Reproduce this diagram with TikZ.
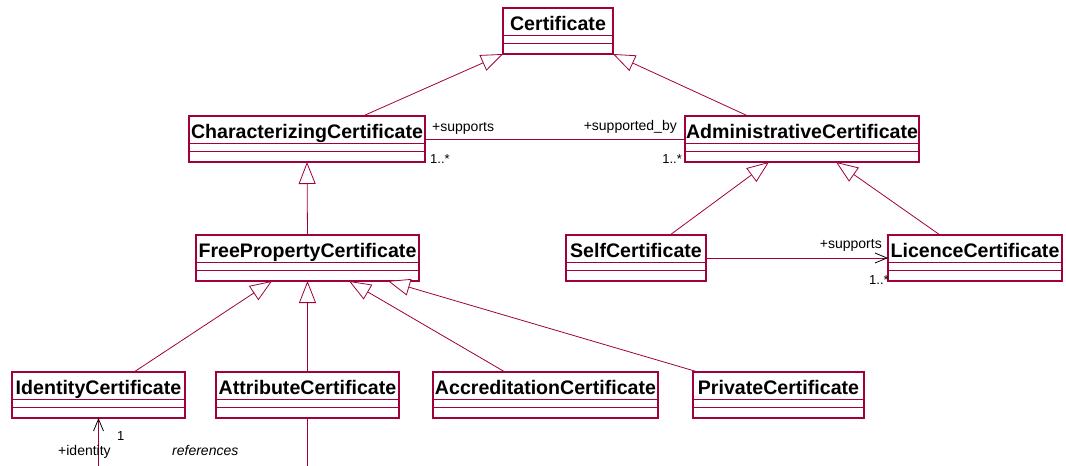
\documentclass[tikz,border=0pt]{standalone}
\usepackage{fontspec}
\setmainfont{Liberation Sans}
\usetikzlibrary{arrows.meta}

\definecolor{umlred}{RGB}{160,0,60}

\tikzset{
  x=1pt, y=-1pt,
  classbox/.style={draw=umlred, line width=1.1pt, inner sep=0pt, outer sep=0pt,
                   minimum height=46pt, anchor=north west},
  compart/.style={draw=umlred, line width=0.8pt},
  classname/.style={font=\fontsize{19.6}{19.6}\selectfont\bfseries, inner sep=0pt, anchor=base},
  role/.style={font=\fontsize{14}{14}\selectfont, inner sep=0pt},
  mult/.style={font=\fontsize{13}{13}\selectfont, inner sep=0pt},
  gen/.style={draw=umlred, line width=0.8pt,
              -{Triangle[open, length=22pt, width=17pt, fill=white, line width=0.8pt]}},
  assoc/.style={draw=umlred, line width=0.8pt},
  nav/.style={assoc, -{Straight Barb[length=12pt, width=10pt, color=black, line width=0.8pt]}}
}

% UML class: id, left, top, right, name
\newcommand\umlclass[5]{%
  \node[classbox, minimum width={(#4-#2)*1pt}] (#1) at (#2,#3) {};
  \node[classname] (#1-name) at ([yshift=-22.5pt]#1.north) {#5};
  \draw[compart] ([yshift=-27pt]#1.north west) -- ([yshift=-27pt]#1.north east);
  \draw[compart] ([yshift=-35pt]#1.north west) -- ([yshift=-35pt]#1.north east);
}

\begin{document}
\begin{tikzpicture}
\useasboundingbox (0,0) rectangle (1066,466);

% classes
\umlclass{cert}{503}{8}{613}{Certificate}
\umlclass{char}{189}{116}{425}{CharacterizingCertificate}
\umlclass{admin}{685}{116}{919}{AdministrativeCertificate}
\umlclass{free}{196}{235}{419}{FreePropertyCertificate}
\umlclass{self}{566}{235}{706}{SelfCertificate}
\umlclass{lic}{888}{235}{1062}{LicenceCertificate}
\umlclass{ident}{12}{372}{185}{IdentityCertificate}
\umlclass{attr}{216}{372}{399}{AttributeCertificate}
\umlclass{accr}{433}{372}{658}{AccreditationCertificate}
\umlclass{priv}{693}{372}{864}{PrivateCertificate}

% generalizations
\draw[gen] ([xshift=56pt]char.north) -- (cert.south west);
\draw[gen] ([xshift=-54pt]admin.north) -- (cert.south east);
\draw[gen] (free.north) -- (char.south);
\draw[gen] ([xshift=34pt]self.north) -- ([xshift=-33pt]admin.south);
\draw[gen] ([xshift=-35pt]lic.north) -- ([xshift=34pt]admin.south);
\draw[gen] ([xshift=35.5pt]ident.north) -- ([xshift=-35.5pt]free.south);
\draw[gen] (attr.north) -- (free.south);
\draw[gen] ([xshift=-40.5pt]accr.north) -- ([xshift=41.5pt]free.south);
\draw[gen] ([xshift=-80.5pt]priv.north) -- ([xshift=80.5pt]free.south);

% associations
\draw[assoc] (char.east) -- (admin.west);
\node[role, anchor=base west] (r-sup) at (432,131) {+supports};
\node[role, anchor=base east] (r-supby) at (677,130) {+supported\_by};
\node[mult, anchor=base west] (m-char) at (430,163) {1..*};
\node[mult, anchor=base east] (m-admin) at (682,163) {1..*};

\draw[nav] (self.east) -- (lic.west);
\node[role, anchor=base east] (r-sup2) at (882,248) {+supports};
\node[mult, anchor=base west] (m-lic) at (869,284) {1..*};

\coordinate (idtail) at (98.5,466);
\draw[nav] (idtail) -- (ident.south);
\node[mult, anchor=base west] (m-ident) at (117,440) {1};
\node[role, anchor=base west] (r-ident) at (58,455) {+identity};
\node[role, anchor=base west, font=\fontsize{14}{14}\selectfont\itshape] (refs) at (172,455) {references};

\coordinate (attrtail) at (307.5,466);
\draw[assoc] (attr.south) -- (attrtail);
\end{tikzpicture}
\end{document}
